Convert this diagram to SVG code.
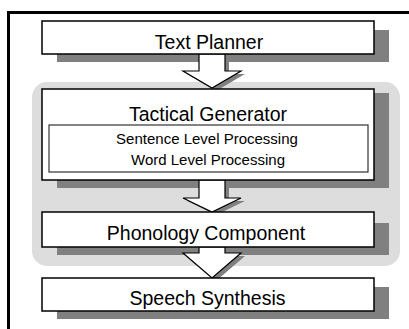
<svg xmlns="http://www.w3.org/2000/svg" width="409" height="329" viewBox="0 0 409 329">
<style>
.box{fill:#fff;stroke:#000;stroke-width:1.5}
.inner{fill:#fff;stroke:#333;stroke-width:1.2}
.sh{fill:#808080}
.arr{fill:#fff;stroke:#000;stroke-width:1.2;stroke-linejoin:miter}
.ash{fill:#808080}
.big{font-family:"Liberation Sans",Arial,sans-serif;font-size:19.5px;fill:#000;text-anchor:middle}
.small{font-family:"Liberation Sans",Arial,sans-serif;font-size:15px;fill:#000;text-anchor:middle}
</style>
<rect x="0" y="0" width="409" height="329" fill="#fff"/>
<path d="M8.5,329 V12.5 H409" fill="none" stroke="#000" stroke-width="3"/>
<rect x="32" y="82" width="368" height="184" rx="15" ry="15" fill="#ddd"/>
<g id="shadows">
<rect class="sh" x="57" y="30" width="332" height="32"/>
<rect class="sh" x="57" y="93" width="332" height="95"/>
<rect class="sh" x="57" y="223" width="332" height="32"/>
<rect class="sh" x="57" y="287" width="332" height="32"/>
</g>
<g id="connectors">
<path class="ash" d="M203,57 V74 H187 L216,91 L245,74 H229 V57 Z"/>
<path class="arr" d="M199,54 V71 H183 L212,88 L241,71 H225 V54 Z"/>
<path class="ash" d="M203,183 V201 H187 L216,215 L245,201 H229 V183 Z"/>
<path class="arr" d="M199,180 V198 H183 L212,212 L241,198 H225 V180 Z"/>
<path class="ash" d="M203,250 V256 H187 L216,281 L245,256 H229 V250 Z"/>
<path class="arr" d="M199,247 V253 H183 L212,278 L241,253 H225 V247 Z"/>
</g>
<g id="text-planner">
<rect class="box" x="42" y="21" width="332" height="33"/>
<text class="big" x="209" y="48.5">Text Planner</text>
</g>
<g id="tactical-generator">
<rect class="box" x="42" y="89" width="332" height="91"/>
<text class="big" x="208" y="121">Tactical Generator</text>
<rect class="inner" x="49" y="125" width="319" height="47"/>
<text class="small" x="207" y="143.5">Sentence Level Processing</text>
<text class="small" x="208" y="165">Word Level Processing</text>
</g>
<g id="phonology-component">
<rect class="box" x="42" y="212" width="332" height="35"/>
<text class="big" x="206" y="240">Phonology Component</text>
</g>
<g id="speech-synthesis">
<rect class="box" x="42" y="278" width="332" height="33"/>
<text class="big" x="207.5" y="305">Speech Synthesis</text>
</g>
</svg>
